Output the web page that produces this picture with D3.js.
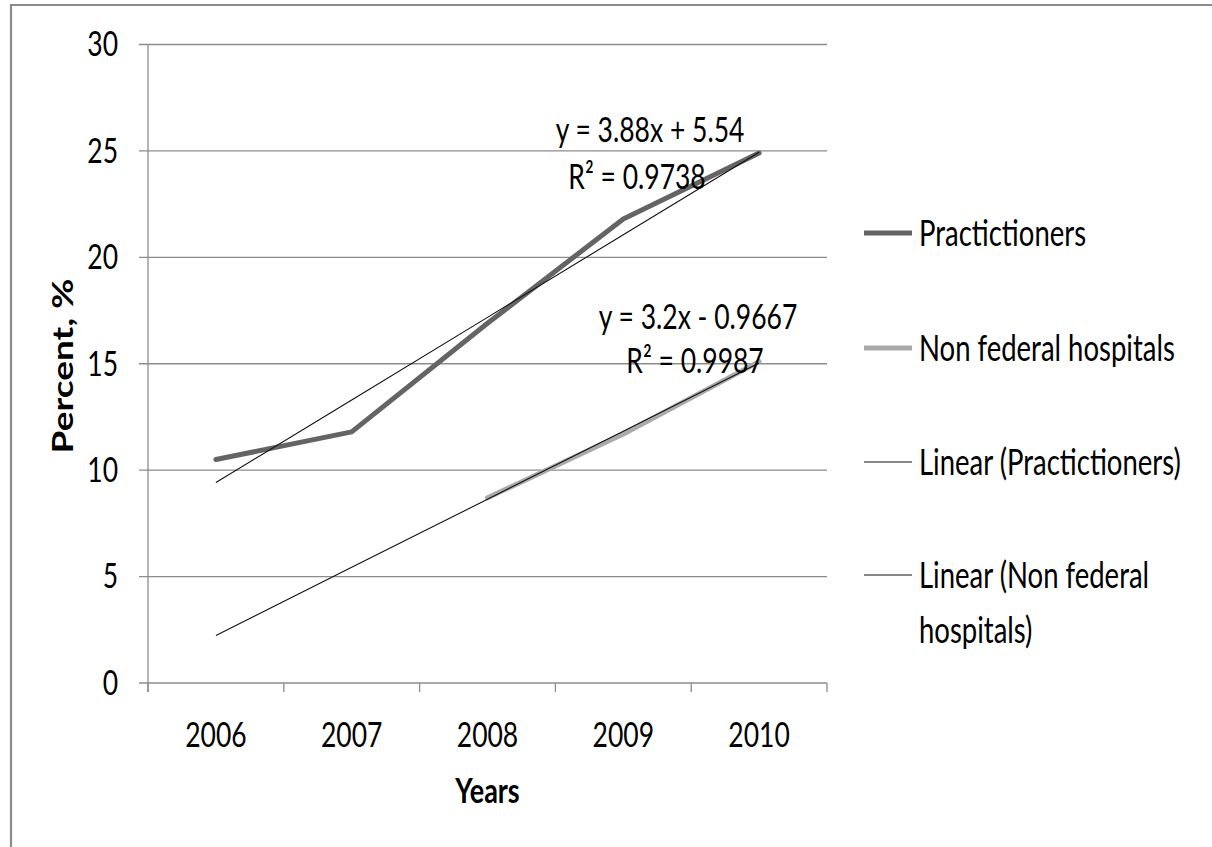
<!DOCTYPE html>
<html><head><meta charset="utf-8">
<script src="https://cdn.jsdelivr.net/npm/d3@7"></script>
<style>body{margin:0;background:#fff}svg{display:block}text{font-family:Lato,"Open Sans",sans-serif;fill:#000}</style>
</head><body><svg id="c" width="1212" height="847"></svg>
<script>
const years = ["2006","2007","2008","2009","2010"];
const practitioners = [10.5, 11.8, 16.9, 21.8, 24.9];
const nonFederal = [null, null, 8.7, 11.7, 15.1];
const yTicks = [0,5,10,15,20,25,30];
const seriesNames = ["Practictioners","Non federal  hospitals","Linear (Practictioners)","Linear (Non federal|hospitals)"];
const eqP = ["y = 3.88x + 5.54","R\u00B2 = 0.9738"];
const eqN = ["y = 3.2x - 0.9667","R\u00B2 = 0.9987"];

const svg = d3.select("#c");
const L=148,R=827,T=44.5,B=683;
const x = d3.scaleBand().domain(years).range([L,R]).padding(0);
const y = d3.scaleLinear().domain([0,30]).range([B,T]);
const cx = d => x(d)+x.bandwidth()/2;
const SY = 1.3;

// outer border (top and left edges only visible)
svg.append("path").attr("d","M11,900 L11,5 L1212,5")
  .attr("fill","none").attr("stroke","#8a8a8a").attr("stroke-width",2.2);

function stext(px,py,str,size,anchor,weight){
  const g = svg.append("g").attr("transform",`translate(${px},${py}) scale(1,${SY})`);
  return g.append("text").attr("font-size",size).attr("text-anchor",anchor||"start")
    .attr("dominant-baseline","central").attr("font-weight",weight||"normal").text(str);
}

// gridlines
svg.append("g").selectAll("line").data(yTicks).join("line")
  .attr("x1",L-9).attr("x2",R).attr("y1",d=>y(d)).attr("y2",d=>y(d))
  .attr("stroke","#8c8c8c").attr("stroke-width",1.3);
// y axis line
svg.append("line").attr("x1",L).attr("x2",L).attr("y1",T).attr("y2",B+9).attr("stroke","#8c8c8c").attr("stroke-width",1.3);
// x ticks at band edges
const edges = years.map(d=>x(d)).concat([R]);
svg.append("g").selectAll("line").data(edges).join("line")
  .attr("x1",d=>d).attr("x2",d=>d).attr("y1",B).attr("y2",B+9).attr("stroke","#8c8c8c").attr("stroke-width",1.3);

// tick labels
yTicks.forEach(t=>stext(118,y(t)-1,String(t),26.5,"end"));
years.forEach(d=>stext(cx(d),734,d,26.5,"middle"));

// axis titles
svg.append("g").attr("transform",`translate(62,366) rotate(-90) scale(${SY},1)`)
  .append("text").attr("font-size",28.5).attr("font-weight","bold").attr("text-anchor","middle")
  .attr("dominant-baseline","central").text("Percent, %");
stext(487.5,790,"Years",27,"middle","bold");

// regression
function fit(vals){
  const pts = vals.map((v,i)=>[i+1,v]).filter(p=>p[1]!=null);
  const mx=d3.mean(pts,p=>p[0]), my=d3.mean(pts,p=>p[1]);
  const b=d3.sum(pts,p=>(p[0]-mx)*(p[1]-my))/d3.sum(pts,p=>(p[0]-mx)**2);
  return i=>my+b*(i-mx);
}
const fP=fit(practitioners), fN=fit(nonFederal);

const line = d3.line().defined(d=>d[1]!=null).x(d=>cx(d[0])).y(d=>y(d[1]));
svg.append("path").datum(years.map((d,i)=>[d,practitioners[i]])).attr("d",line)
  .attr("fill","none").attr("stroke","#646464").attr("stroke-width",5).attr("stroke-linejoin","round").attr("stroke-linecap","round");
svg.append("path").datum(years.map((d,i)=>[d,nonFederal[i]])).attr("d",line)
  .attr("fill","none").attr("stroke","#aaa").attr("stroke-width",5).attr("stroke-linejoin","round").attr("stroke-linecap","round");
svg.append("path").datum(years.map((d,i)=>[d,fP(i+1)])).attr("d",line)
  .attr("fill","none").attr("stroke","#111").attr("stroke-width",1.1);
svg.append("path").datum(years.map((d,i)=>[d,fN(i+1)])).attr("d",line)
  .attr("fill","none").attr("stroke","#111").attr("stroke-width",1.1);

// equation labels
stext(650,129,eqP[0],26.5,"middle");
stext(637,176,eqP[1],26.5,"middle");
stext(698,316,eqN[0],26.5,"middle");
stext(695,360,eqN[1],26.5,"middle");

// legend
const legY=[233,348,462,575];
const legStyle=[{c:"#646464",w:5},{c:"#aaa",w:5},{c:"#111",w:1.1},{c:"#111",w:1.1}];
seriesNames.forEach((n,i)=>{
  svg.append("line").attr("x1",864).attr("x2",912).attr("y1",legY[i]).attr("y2",legY[i])
    .attr("stroke",legStyle[i].c).attr("stroke-width",legStyle[i].w);
  n.split("|").forEach((s,j)=>stext(919,legY[i]+j*55,s,27.5,"start"));
});
</script></body></html>
